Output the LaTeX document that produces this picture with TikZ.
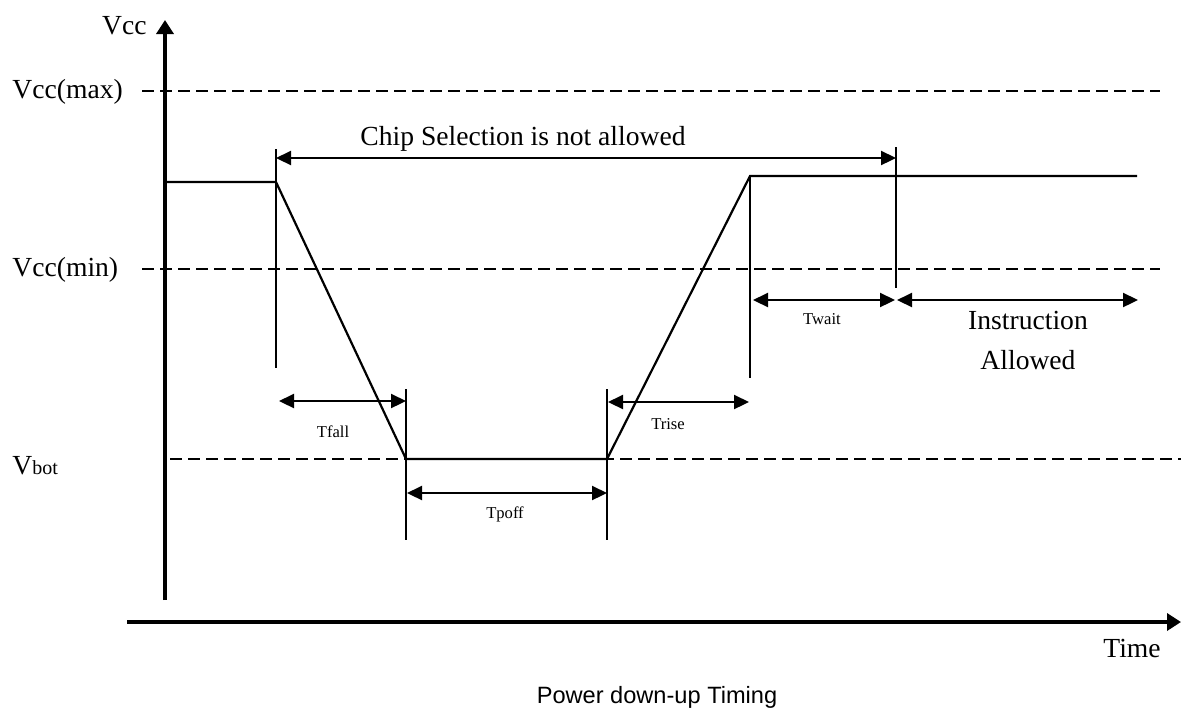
\documentclass[tikz,border=0pt]{standalone}
\usepackage{fontspec}
\setmainfont{Liberation Serif}
\newfontfamily\captionfont{Liberation Sans}
\usetikzlibrary{arrows.meta}
\tikzset{
	axis style/.style={
		line width=1.7pt,
		-{Triangle[length=7pt,width=8.5pt]}
	},
	level style/.style={
		line width=1.1pt,
		dash pattern=on 6pt off 3pt
	},
	signal style/.style={
		line width=1.1pt,
		line join=miter
	},
	marker style/.style={
		line width=1.1pt
	},
	span style/.style={
		line width=1.1pt,
		{Triangle[length=7.5pt,width=7pt]}-{Triangle[length=7.5pt,width=7pt]}
	},
	big label/.style={
		inner sep=0pt,
		anchor=base,
		font=\fontsize{13.8}{16}\selectfont
	},
	small label/.style={
		inner sep=0pt,
		anchor=base,
		font=\fontsize{8.3}{10}\selectfont
	}
}

\begin{document}
\begin{tikzpicture}[x=0.5pt, y=-0.5pt]
		
		% --- 0. Frame of the page ---
		\useasboundingbox (0,0) rectangle (1181,708);
		
		% --- 1. Axes ---
		\coordinate (yBottom) at (165,600);
		\coordinate (yTop) at (165,20);
		\coordinate (tLeft) at (127,622);
		\coordinate (tRight) at (1181,622);
		\draw[axis style] (yBottom) -- (yTop);
		\draw[axis style] (tLeft) -- (tRight);
		
		% --- 2. Voltage levels ---
		\coordinate (maxL) at (142,91);   \coordinate (maxR) at (1160,91);
		\coordinate (minL) at (142,269);  \coordinate (minR) at (1160,269);
		\coordinate (botL) at (170,459);  \coordinate (botR) at (1181,459);
		\draw[level style] (maxL) -- (maxR);
		\draw[level style] (minL) -- (minR);
		\draw[level style] (botL) -- (botR);
		
		% --- 3. The supply curve ---
		\coordinate (sigStart) at (165,182);
		\coordinate (fallTop) at (276,182);
		\coordinate (fallBot) at (406,459);
		\coordinate (riseBot) at (607,459);
		\coordinate (riseTop) at (750,176);
		\coordinate (sigEnd) at (1137,176);
		\draw[signal style] (sigStart) -- (fallTop) -- (fallBot) -- (riseBot) -- (riseTop) -- (sigEnd);
		
		% --- 4. Marker lines ---
		\foreach \name/\x/\ya/\yb in {mA/276/149/368, mB/406/389/540, mC/607/389/540, mD/750/176/378, mE/896/147/288} {
			\coordinate (\name top) at (\x,\ya);
			\coordinate (\name bot) at (\x,\yb);
			\draw[marker style] (\name top) -- (\name bot);
		}
		
		% --- 5. Spans ---
		\coordinate (chipL) at (276,158);   \coordinate (chipR) at (896,158);
		\coordinate (fallL) at (279,401);   \coordinate (fallR) at (406,401);
		\coordinate (poffL) at (407,493);   \coordinate (poffR) at (607,493);
		\coordinate (riseL) at (608,402);   \coordinate (riseR) at (749,402);
		\coordinate (waitL) at (753,300);   \coordinate (waitR) at (895,300);
		\coordinate (instrL) at (897,300);  \coordinate (instrR) at (1138,300);
		\draw[span style] (chipL) -- (chipR);
		\draw[span style] (fallL) -- (fallR);
		\draw[span style] (poffL) -- (poffR);
		\draw[span style] (riseL) -- (riseR);
		\draw[span style] (waitL) -- (waitR);
		\draw[span style] (instrL) -- (instrR);
		
		% --- 6. Labels ---
		\node[big label, anchor=base east] (vccLabel) at (147,34) {Vcc};
		\node[big label, anchor=base west] (maxLabel) at (12,98) {Vcc(max)};
		\node[big label, anchor=base west] (minLabel) at (12,276) {Vcc(min)};
		\node[big label, anchor=base west] (botLabel) at (12,474) {V{\fontsize{10}{12}\selectfont bot}};
		\node[big label] (chipLabel) at (523,145) {Chip Selection is not allowed};
		\node[small label] (fallLabel) at (333,437) {Tfall};
		\node[small label] (poffLabel) at (505,518) {Tpoff};
		\node[small label] (riseLabel) at (668,429) {Trise};
		\node[small label] (waitLabel) at (822,324) {Twait};
		\node[big label] (instrLabel) at (1028,329) {Instruction};
		\node[big label] (allowLabel) at (1028,369) {Allowed};
		\node[big label] (timeLabel) at (1132,657) {Time};
		
		% --- 7. Caption ---
		\node[inner sep=0pt, anchor=base, font=\captionfont\fontsize{11.8}{14}\selectfont] (caption) at (657,703) {Power down-up Timing};
		
	\end{tikzpicture}
\end{document}
